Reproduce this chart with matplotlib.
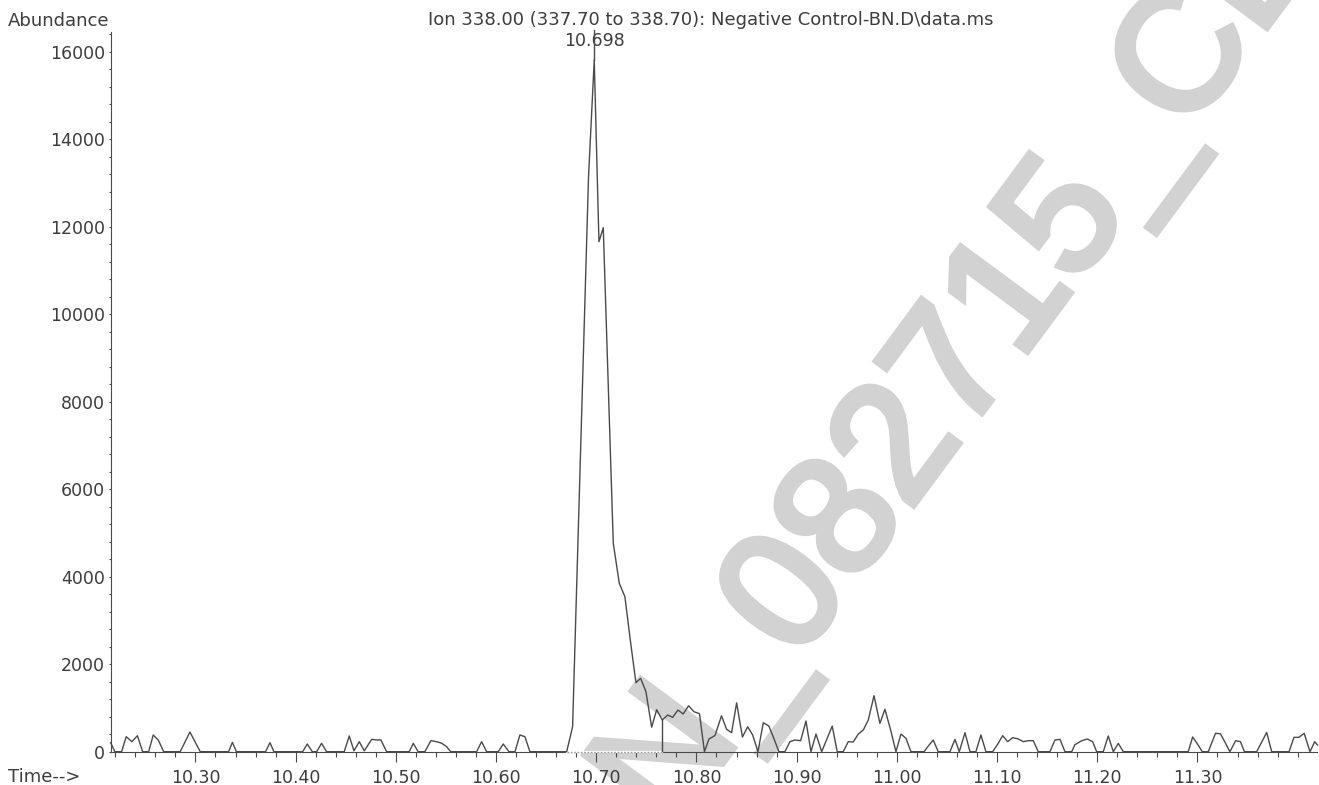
import matplotlib.pyplot as plt
import matplotlib.patheffects as pe
from matplotlib.ticker import MultipleLocator

plt.rcParams['font.family'] = ['DejaVu Sans']

# Extracted ion chromatogram, m/z 338 (time in min, abundance in counts)
time_min = [
    10.2154, 10.2196, 10.2263, 10.2309, 10.2366, 10.2421, 10.2473, 10.2533,
    10.2579, 10.2629, 10.2683, 10.2848, 10.2945, 10.3048, 10.3331, 10.3369,
    10.3409, 10.3700, 10.3744, 10.3783, 10.4070, 10.4116, 10.4166, 10.4210,
    10.4259, 10.4309, 10.4485, 10.4535, 10.4582, 10.4635, 10.4685, 10.4759,
    10.4809, 10.4851, 10.4908, 10.5134, 10.5174, 10.5223, 10.5290, 10.5350,
    10.5407, 10.5457, 10.5507, 10.5547, 10.5806, 10.5856, 10.5906, 10.6022,
    10.6072, 10.6129, 10.6189, 10.6238, 10.6288, 10.6338,
    # main peak
    10.6705, 10.6764, 10.6817, 10.6870, 10.6923, 10.6980, 10.7027, 10.7070,
    10.7120, 10.7170, 10.7230, 10.7286, 10.7341, 10.7396, 10.7443, 10.7496,
    10.7553, 10.7603, 10.7659, 10.7713, 10.7763, 10.7815, 10.7868, 10.7922,
    10.7975, 10.8030,
    10.8080, 10.8125, 10.8185, 10.8250, 10.8301, 10.8351, 10.8401, 10.8459,
    10.8511, 10.8561, 10.8614, 10.8667, 10.8723, 10.8773, 10.8823, 10.8883,
    10.8933, 10.8983, 10.9040, 10.9093, 10.9143, 10.9193, 10.9250, 10.9302,
    10.9355, 10.9405, 10.9465, 10.9515, 10.9565, 10.9615, 10.9665, 10.9715,
    10.9772, 10.9831, 10.9881, 10.9938, 10.9991, 11.0041, 11.0091, 11.0141,
    11.0271, 11.0321, 11.0363, 11.0413, 11.0530, 11.0580, 11.0623, 11.0680,
    11.0730, 11.0789, 11.0839, 11.0889, 11.0956, 11.1006, 11.1056, 11.1106,
    11.1156, 11.1206, 11.1262, 11.1312, 11.1362, 11.1411, 11.1528, 11.1578,
    11.1628, 11.1678, 11.1745, 11.1777, 11.1844, 11.1900, 11.1954, 11.1994,
    11.2060, 11.2110, 11.2160, 11.2210, 11.2260, 11.2908, 11.2952, 11.3002,
    11.3048, 11.3108, 11.3180, 11.3229, 11.3279, 11.3324, 11.3381, 11.3429,
    11.3469, 11.3591, 11.3691, 11.3741, 11.3914, 11.3963, 11.4013, 11.4065,
    11.4123, 11.4170, 11.4198,
]
abundance = [
    206, 0, 0, 343, 229, 366, 0, 0,
    382, 267, 0, 0, 450, 0, 0, 214,
    0, 0, 206, 0, 0, 176, 0, 0,
    191, 0, 0, 359, 20, 229, 20, 282,
    267, 270, 0, 0, 191, 0, 0, 252,
    229, 195, 114, 0, 0, 229, 0, 0,
    176, 0, 0, 382, 343, 0,
    # main peak
    0, 571, 4760, 8950, 13140, 15810, 11657, 11977,
    8380, 4763, 3850, 3543, 2530, 1577, 1677, 1371,
    560, 960, 724, 838, 784, 953, 862, 1050,
    914, 870,
    0, 290, 370, 820, 512, 434, 1115, 335,
    571, 382, 0, 663, 587, 300, 0, 0,
    229, 267, 252, 701, 0, 404, 0, 290,
    587, 0, 0, 229, 222, 404, 496, 724,
    1280, 648, 969, 496, 0, 404, 306, 0,
    0, 150, 267, 0, 0, 282, 0, 434,
    0, 0, 382, 0, 0, 170, 366, 229,
    320, 297, 229, 252, 252, 0, 0, 267,
    282, 0, 0, 160, 250, 290, 230, 0,
    0, 359, 0, 191, 0, 0, 336, 170,
    0, 0, 420, 410, 200, 0, 252, 229,
    0, 0, 440, 0, 0, 328, 328, 420,
    0, 229, 153,
]

ion_title = 'Ion 338.00 (337.70 to 338.70): Negative Control-BN.D\\data.ms'
x_ticks = [10.30, 10.40, 10.50, 10.60, 10.70, 10.80, 10.90, 11.00, 11.10, 11.20, 11.30]
y_ticks = [0, 2000, 4000, 6000, 8000, 10000, 12000, 14000, 16000]
peak_start = 10.6705   # integration start
peak_split = 10.7659   # drop line
stamp = 'N_082715_CL'

ink = '#3d3d3d'
trace = '#4a4a4a'
stamp_grey = '#d2d2d2'

fig = plt.figure(figsize=(13.19, 7.85), dpi=100)
ax = fig.add_axes([0.0839, 0.04242, 0.91496, 0.91682])
ax.patch.set_visible(False)

# diagonal stamp behind the trace
fig.text(0.5076, -0.0634, stamp, rotation=53.5, rotation_mode='anchor',
         ha='left', va='baseline', fontsize=121, family='Liberation Sans',
         color=stamp_grey, zorder=-1,
         path_effects=[pe.Stroke(linewidth=5, foreground=stamp_grey,
                                 joinstyle='miter', capstyle='butt'),
                       pe.Normal()])

ax.plot(time_min, abundance, color=trace, lw=1.0, zorder=4, clip_on=False)

# integration baseline and drop line
ax.plot([peak_start, peak_split], [0, 0], color='white', lw=1.6, zorder=3, clip_on=False)
ax.plot([peak_start, peak_split], [0, 0], color='#9a9a9a', lw=1.0,
        ls=(0, (1.2, 1.2)), zorder=3.1, clip_on=False)
split_val = abundance[time_min.index(peak_split)]
ax.plot([peak_split, peak_split], [0, split_val], color=trace, lw=1.0, zorder=4)

# apex label
i_apex = abundance.index(max(abundance))
t_apex, v_apex = time_min[i_apex], abundance[i_apex]
ax.plot([t_apex, t_apex], [v_apex, 16500], color=trace, lw=1.0, zorder=4, clip_on=False)
ax.text(t_apex, 16130, f'{t_apex:.3f}', ha='center', va='baseline',
        fontsize=12.5, color=ink, clip_on=False, zorder=3)

ax.set_xlim(10.2154, 11.4198)
ax.set_ylim(0, 16450)

ax.set_xticks(x_ticks)
ax.set_xticklabels([f'{t:.2f}' for t in x_ticks])
ax.xaxis.set_minor_locator(MultipleLocator(0.02))
ax.set_yticks(y_ticks)
ax.yaxis.set_minor_locator(MultipleLocator(400))

ax.tick_params(axis='x', which='major', length=7.2, width=0.8, color=trace,
               labelsize=12.5, labelcolor=ink, pad=5)
ax.tick_params(axis='x', which='minor', length=3.6, width=0.8, color=trace)
ax.tick_params(axis='y', which='major', length=1.8, width=0.8, color=trace,
               labelsize=12.5, labelcolor=ink, pad=2.2)
ax.tick_params(axis='y', which='minor', length=1.1, width=0.8, color=trace)

for side in ['top', 'right']:
    ax.spines[side].set_visible(False)
for side in ['left', 'bottom']:
    ax.spines[side].set_color(trace)
    ax.spines[side].set_linewidth(0.8)

fig.text(8 / 1319, 1 - 26.5 / 785, 'Abundance', ha='left', va='baseline',
         fontsize=13, color=ink)
fig.text(711 / 1319, 1 - 25 / 785, ion_title, ha='center', va='baseline',
         fontsize=13, color=ink)
fig.text(8 / 1319, 1 - 782.5 / 785, 'Time-->', ha='left', va='baseline',
         fontsize=13, color=ink)

fig.savefig('out.png', dpi=100, facecolor='white')
plt.close(fig)
